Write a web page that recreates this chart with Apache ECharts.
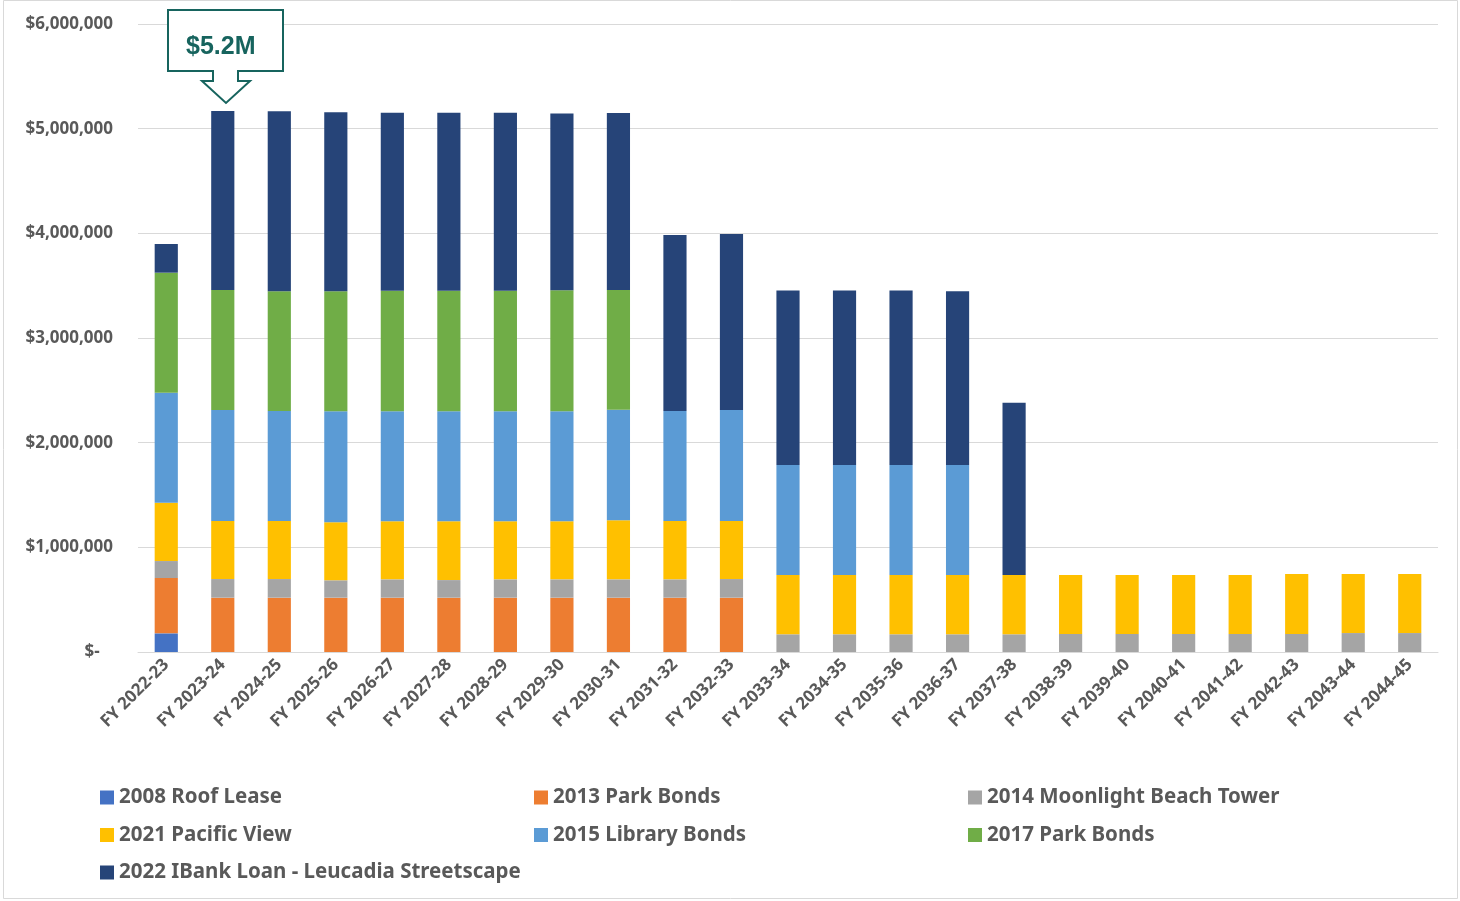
<!DOCTYPE html>
<html>
<head>
    <meta charset="UTF-8">
    <title>Debt service by fiscal year</title>
    <script src="https://cdn.jsdelivr.net/npm/echarts@6/dist/echarts.min.js"></script>
    <style>
        html, body { margin: 0; padding: 0; background: #fff; }
        #chart { width: 1460px; height: 901px; }
    </style>
</head>
<body>
    <div id="chart"></div>
    <script>
        // fiscal years on the x axis
        var years = ['FY 2022-23', 'FY 2023-24', 'FY 2024-25', 'FY 2025-26', 'FY 2026-27', 'FY 2027-28',
            'FY 2028-29', 'FY 2029-30', 'FY 2030-31', 'FY 2031-32', 'FY 2032-33', 'FY 2033-34',
            'FY 2034-35', 'FY 2035-36', 'FY 2036-37', 'FY 2037-38', 'FY 2038-39', 'FY 2039-40',
            'FY 2040-41', 'FY 2041-42', 'FY 2042-43', 'FY 2043-44', 'FY 2044-45'];

        // annual payments (dollars)
        var roofLease = [178000, 0, 0, 0, 0, 0, 0, 0, 0, 0, 0, 0, 0, 0, 0, 0, 0, 0, 0, 0, 0, 0, 0];
        var parkBonds2013 = [529000, 519000, 519000, 519000, 519000, 519000, 519000, 519000, 519000, 519000, 519000,
            0, 0, 0, 0, 0, 0, 0, 0, 0, 0, 0, 0];
        var moonlightTower = [162000, 178000, 178000, 166000, 175000, 168000, 175000, 175000, 175000, 175000, 178000,
            169000, 169000, 169000, 169000, 169000, 172000, 172000, 172000, 172000, 172000, 181000, 181000];
        var pacificView = [558000, 555000, 555000, 555000, 555000, 562000, 555000, 555000, 565000, 558000, 555000,
            567000, 567000, 567000, 567000, 567000, 564000, 564000, 564000, 564000, 573000, 564000, 564000];
        var libraryBonds = [1051000, 1060000, 1050000, 1060000, 1052000, 1052000, 1052000, 1052000, 1055000, 1050000, 1060000,
            1051000, 1051000, 1051000, 1051000, 0, 0, 0, 0, 0, 0, 0, 0];
        var parkBonds2017 = [1146000, 1147000, 1144000, 1147000, 1150000, 1150000, 1150000, 1155000, 1145000,
            0, 0, 0, 0, 0, 0, 0, 0, 0, 0, 0, 0, 0, 0];
        var ibankLoan = [274000, 1710000, 1720000, 1710000, 1700000, 1700000, 1700000, 1690000, 1690000, 1682000, 1682000,
            1668000, 1668000, 1668000, 1660000, 1646000, 0, 0, 0, 0, 0, 0, 0];

        var yTicks = [0, 1000000, 2000000, 3000000, 4000000, 5000000, 6000000];

        var names = ['2008 Roof Lease', '2013 Park Bonds', '2014 Moonlight Beach Tower', '2021 Pacific View',
            '2015 Library Bonds', '2017 Park Bonds', '2022 IBank Loan - Leucadia Streetscape'];
        var colors = ['#4472C4', '#ED7D31', '#A5A5A5', '#FFC000', '#5B9BD5', '#70AD47', '#264478'];
        var values = [roofLease, parkBonds2013, moonlightTower, pacificView, libraryBonds, parkBonds2017, ibankLoan];

        var font = 'Noto Sans';
        var gray = '#595959';

        var series = names.map(function (n, i) {
            return {
                name: n,
                type: 'bar',
                stack: 'total',
                barWidth: '41%',
                itemStyle: { color: colors[i] },
                data: values[i]
            };
        });

        function legendCol(left, data) {
            return {
                orient: 'vertical',
                left: left,
                top: 782,
                itemWidth: 14,
                itemHeight: 14,
                itemGap: 16.5,
                icon: 'rect',
                textStyle: { fontFamily: font, fontSize: 20.5, fontWeight: 'bold', color: gray },
                data: data
            };
        }

        var chart = echarts.init(document.getElementById('chart'), null, {renderer: 'canvas'});
        chart.setOption({
            animation: false,
            backgroundColor: '#fff',
            grid: { left: 138, right: 22, top: 24, bottom: 249, containLabel: false },
            legend: [
                legendCol(95, [names[0], names[3], names[6]]),
                legendCol(529, [names[1], names[4]]),
                legendCol(963, [names[2], names[5]])
            ],
            xAxis: {
                type: 'category',
                data: years,
                axisTick: { show: false },
                axisLine: { lineStyle: { color: '#D9D9D9', width: 1 } },
                axisLabel: {
                    rotate: 45, interval: 0, margin: 10,
                    fontFamily: font, fontSize: 17, fontWeight: 'bold', color: gray
                }
            },
            yAxis: {
                type: 'value',
                min: yTicks[0],
                max: yTicks[yTicks.length - 1],
                interval: 1000000,
                axisLine: { show: false },
                axisTick: { show: false },
                splitLine: { lineStyle: { color: '#D9D9D9', width: 1 } },
                axisLabel: {
                    margin: 25, fontFamily: font, fontSize: 17, fontWeight: 'bold', color: gray,
                    formatter: function (v) {
                        return v === 0 ? '$-   ' : '$' + v.toLocaleString('en-US');
                    }
                }
            },
            graphic: [
                {
                    type: 'rect', silent: true, z: -1,
                    shape: { x: 3.5, y: 0.5, width: 1454, height: 898 },
                    style: { fill: 'none', stroke: '#D9D9D9', lineWidth: 1 }
                },
                {
                    type: 'polygon', z: 100,
                    shape: {
                        points: [[168, 10], [283, 10], [283, 71], [238, 71], [238, 81], [250, 81],
                            [226, 103], [202, 81], [213, 81], [213, 71], [168, 71]]
                    },
                    style: { fill: '#fff', stroke: '#17645E', lineWidth: 2 }
                },
                {
                    type: 'text', z: 101, left: 186, top: 35,
                    style: {
                        text: '$5.2M', fill: '#17645E',
                        font: 'bold 25px "Liberation Sans", Arial, sans-serif'
                    }
                }
            ],
            series: series
        });
    </script>
</body>
</html>
